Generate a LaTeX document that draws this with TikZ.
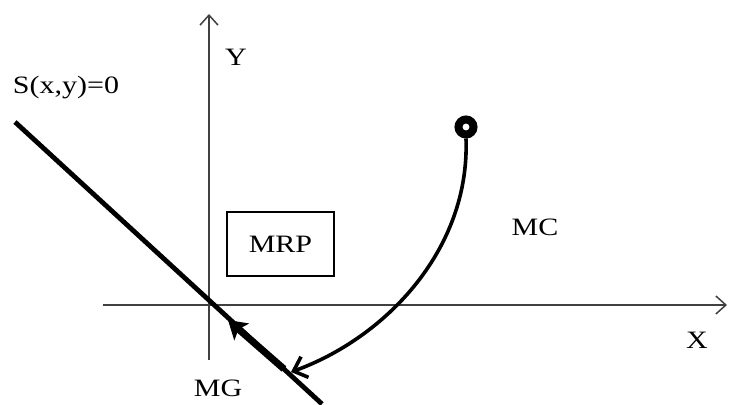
\documentclass[tikz,border=0pt]{standalone}
\usepackage{fontspec}
\setmainfont{Liberation Serif}
\usetikzlibrary{arrows.meta}
\begin{document}
\begin{tikzpicture}[x=1pt,y=-1pt,
  lbl/.style={inner sep=0pt,font=\fontsize{25}{30}\selectfont},
  axis/.style={draw=black!75,line width=1.5pt,-{Straight Barb[length=10pt,width=18pt,line width=1.5pt]}},
  curvearrow/.style={line width=3.6pt,-{Straight Barb[length=12pt,width=22pt,line width=3.6pt]}},
  thickarrow/.style={line width=7pt,-{Stealth[length=18pt,width=22pt,inset=4pt]}}]
\useasboundingbox (0,0) rectangle (730,404);
% axes
\coordinate (xs) at (103,305);
\coordinate (xe) at (727,305);
\coordinate (ys) at (209,360);
\coordinate (ye) at (209,14);
\draw[axis] (xs) -- (xe);
\draw[axis] (ys) -- (ye);
% surface line
\coordinate (s1) at (15,122);
\coordinate (s2) at (322,404);
\draw[line width=4.8pt] (s1) -- (s2);
% labels
\node[lbl] (Y) at (236,57) {\scalebox{1.2}[1]{Y}};
\node[lbl] (X) at (697,340) {\scalebox{1.2}[1]{X}};
\node[lbl] (S) at (66,88) {\scalebox{1.2}[1]{S(x,y)=0}};
\node[lbl] (MC) at (535,227) {\scalebox{1.2}[1]{MC}};
\node[lbl] (MG) at (218,388) {\scalebox{1.2}[1]{MG}};
\node[lbl,draw,line width=1.5pt,minimum width=107pt,minimum height=64pt] (MRP) at (280.5,244) {\scalebox{1.2}[1]{MRP}};
% start point
\node[circle,draw,line width=8pt,minimum size=15pt,inner sep=0pt] (c) at (466,127) {};
\coordinate (tip) at (291,372);
\draw[curvearrow] (c.south) .. controls (470,250) and (385,338) .. (tip);
% sliding motion along the line
\coordinate (g1) at (284,369);
\coordinate (g2) at (228,320);
\draw[thickarrow] (g1) -- (g2);
\end{tikzpicture}
\end{document}
